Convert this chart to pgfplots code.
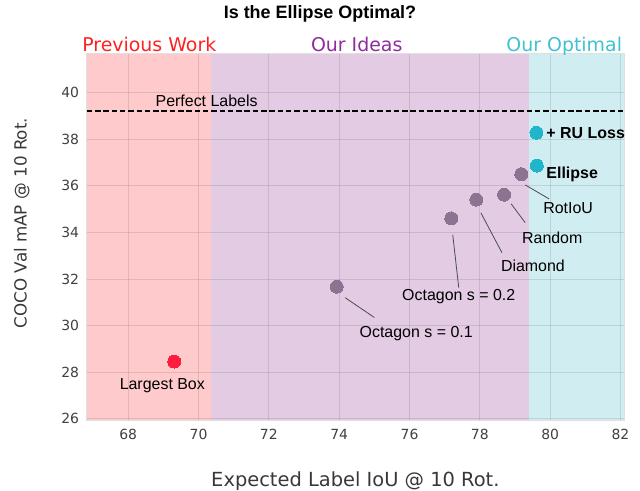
\documentclass[border=0pt]{standalone}
\usepackage{pgfplots}
\pgfplotsset{compat=1.18}
\usepackage{fontspec}
\setmainfont{Liberation Sans}
\newfontfamily\dejavu{DejaVu Sans}
\definecolor{regred}{HTML}{FFCACB}
\definecolor{regpur}{HTML}{E2CBE3}
\definecolor{regcyan}{HTML}{D0EDF1}
\definecolor{dotred}{HTML}{FF1C3D}
\definecolor{dotpur}{HTML}{8C7391}
\definecolor{dotcyan}{HTML}{1FB5CA}
\definecolor{hdred}{HTML}{FF2020}
\definecolor{hdpur}{HTML}{8E2B9E}
\definecolor{hdcyan}{HTML}{3EC1D3}
\begin{document}
\begin{tikzpicture}
\path (0bp,0bp) rectangle (640bp,490bp);
\begin{axis}[
  set layers,
  at={(86.7bp,69.3bp)}, anchor=south west,
  width=537.3bp, height=367.4bp, scale only axis,
  xmin=66.82, xmax=82.1, ymin=25.92, ymax=41.69,
  xtick={68,70,...,82}, ytick={26,28,...,40},
  grid=major,
  major grid style={draw=black, opacity=0.1, line width=0.9bp},
  axis line style={draw=black!12, line width=0.9bp},
  tick style={draw=none},
  /pgf/number format/assume math mode=true,
  tick label style={font=\dejavu\fontsize{14}{16}\selectfont, text=black!75},
  xticklabel style={anchor=base, inner sep=0pt, yshift=-19.3bp},
  yticklabel style={anchor=east, inner sep=0pt, xshift=-7.4bp},
  xlabel={Expected Label IoU @ 10 Rot.},
  ylabel={COCO Val mAP @ 10 Rot.},
  xlabel style={at={(axis description cs:0.5,0)}, anchor=base, inner sep=0pt, yshift=-66bp, font=\dejavu\fontsize{19.5}{22}\selectfont, text=black!78},
  ylabel style={at={(axis description cs:-0.1117,0.538)}, anchor=base, inner sep=0pt, font=\dejavu\fontsize{16.8}{20}\selectfont, text=black!78},
  clip=false,
]
% background regions
\addplot[fill=regred, draw=none, on layer=axis background] coordinates {(66.82,25.92) (70.35,25.92) (70.35,41.69) (66.82,41.69)};
\addplot[fill=regpur, draw=none, on layer=axis background] coordinates {(70.35,25.92) (79.39,25.92) (79.39,41.69) (70.35,41.69)};
\addplot[fill=regcyan, draw=none, on layer=axis background] coordinates {(79.39,25.92) (82.1,25.92) (82.1,41.69) (79.39,41.69)};
% perfect labels
\addplot[black, line width=1.8bp, dash pattern=on 5.5bp off 2.8bp] coordinates {(66.82,39.2) (82.1,39.2)};
\node[anchor=base, inner sep=0pt, font=\fontsize{16}{18}\selectfont] at (axis cs:70.23,39.2) [yshift=5bp] {Perfect Labels};
% annotation lines
\addplot[black!70, line width=0.8bp] coordinates {(79.29,36.04) (79.97,35.44)};
\addplot[black!70, line width=0.8bp] coordinates {(78.89,35.23) (79.29,34.42)};
\addplot[black!70, line width=0.8bp] coordinates {(78.03,34.84) (78.63,33.13)};
\addplot[black!70, line width=0.8bp] coordinates {(77.23,33.90) (77.40,31.63)};
\addplot[black!70, line width=0.8bp] coordinates {(74.17,31.20) (75.00,30.35)};
% points
\addplot[only marks, mark=*, mark size=6.5bp, color=dotred, draw=dotred, fill=dotred, mark options={draw=dotred, fill=dotred, line width=0pt}] coordinates {(69.31,28.46)};
\addplot[only marks, mark=*, mark size=6.5bp, color=dotpur, draw=dotpur, fill=dotpur, mark options={draw=dotpur, fill=dotpur, line width=0pt}] coordinates {(73.93,31.67) (77.19,34.60) (77.90,35.41) (78.69,35.62) (79.18,36.50)};
\addplot[only marks, mark=*, mark size=6.5bp, color=dotcyan, draw=dotcyan, fill=dotcyan, mark options={draw=dotcyan, fill=dotcyan, line width=0pt}] coordinates {(79.62,36.87) (79.61,38.28)};
% labels
\node[font=\fontsize{16}{18}\selectfont] at (axis cs:68.97,27.43) {Largest Box};
\node[font=\fontsize{16}{18}\selectfont] at (axis cs:76.19,29.66) {Octagon s = 0.1};
\node[font=\fontsize{16}{18}\selectfont] at (axis cs:77.40,31.24) {Octagon s = 0.2};
\node[font=\fontsize{16}{18}\selectfont] at (axis cs:79.51,32.57) {Diamond};
\node[font=\fontsize{16}{18}\selectfont] at (axis cs:80.06,33.77) {Random};
\node[font=\fontsize{16}{18}\selectfont] at (axis cs:80.51,35.06) {RotIoU};
\node[anchor=west, inner sep=0pt, font=\bfseries\fontsize{16}{18}\selectfont] at (axis cs:79.89,36.51) {Ellipse};
\node[anchor=west, inner sep=0pt, font=\bfseries\fontsize{16}{18}\selectfont] at (axis cs:79.89,38.28) {+ RU Loss};
% region headings
\node[anchor=base, inner sep=0pt, text=hdred, font=\dejavu\fontsize{19}{22}\selectfont] at (axis cs:68.60,41.69) [yshift=1.8bp] {Previous Work};
\node[anchor=base, inner sep=0pt, text=hdpur, font=\dejavu\fontsize{19}{22}\selectfont] at (axis cs:74.50,41.69) [yshift=1.8bp] {Our Ideas};
\node[anchor=base, inner sep=0pt, text=hdcyan, font=\dejavu\fontsize{19}{22}\selectfont] at (axis cs:80.40,41.69) [yshift=1.8bp] {Our Optimal};
\end{axis}
\node[anchor=base, inner sep=0pt, font=\bfseries\fontsize{18}{21}\selectfont] at (320bp,471.7bp) {Is the Ellipse Optimal?};
\end{tikzpicture}
\end{document}
